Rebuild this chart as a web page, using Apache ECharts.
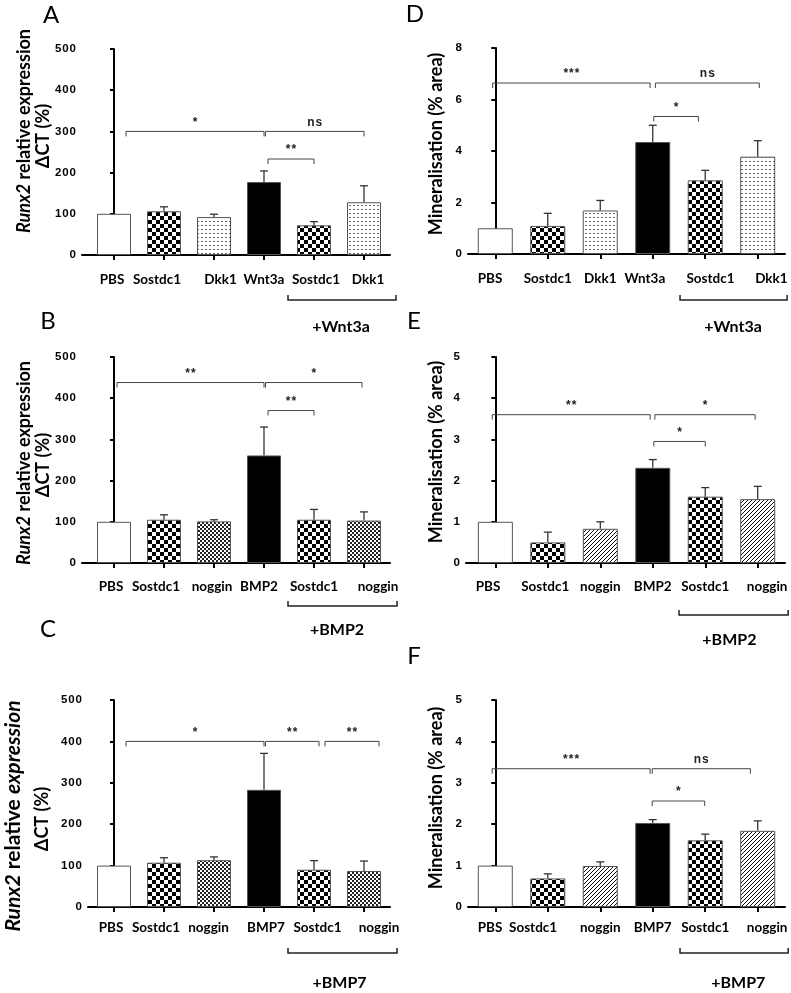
<!DOCTYPE html>
<html>
<head>
<meta charset="utf-8">
<script src="https://cdn.jsdelivr.net/npm/echarts@6/dist/echarts.min.js"></script>
<style>
  html, body { margin: 0; padding: 0; background: #fff; }
  #main { width: 791px; height: 993px; }
</style>
</head>
<body>
<div id="main"></div>
<script>
// categories
var catsWnt = ['PBS', 'Sostdc1', 'Dkk1', 'Wnt3a', 'Sostdc1', 'Dkk1'];
var catsBmp2 = ['PBS', 'Sostdc1', 'noggin', 'BMP2', 'Sostdc1', 'noggin'];
var catsBmp7 = ['PBS', 'Sostdc1', 'noggin', 'BMP7', 'Sostdc1', 'noggin'];

// Runx2 relative expression, dCT (%): mean and top of error bar
var runxWnt = [100, 106, 92, 177, 72, 128];
var runxWntErr = [null, 117, 99, 204, 81, 168];
var runxBmp2 = [100, 105, 101, 261, 105, 103];
var runxBmp2Err = [null, 117, 105, 330, 130, 124];
var runxBmp7 = [100, 107, 113, 283, 90, 87];
var runxBmp7Err = [null, 119, 121, 371, 112, 111];

// mineralisation (% area): mean and top of error bar
var minWnt = [1.0, 1.09, 1.69, 4.35, 2.86, 3.78];
var minWntErr = [null, 1.58, 2.08, 5.0, 3.25, 4.4];
var minBmp2 = [1.0, 0.50, 0.83, 2.31, 1.61, 1.55];
var minBmp2Err = [null, 0.75, 1.0, 2.51, 1.83, 1.86];
var minBmp7 = [1.0, 0.69, 0.99, 2.03, 1.61, 1.84];
var minBmp7Err = [null, 0.80, 1.09, 2.11, 1.76, 2.08];

// y tick labels
var runxTicks = [0, 100, 200, 300, 400, 500];
var minTicks8 = [0, 2, 4, 6, 8];
var minTicks5 = [0, 1, 2, 3, 4, 5];

// significance brackets: [from, to, height, label]
var sigA = [[0.24, 3, 300, '*'], [3.03, 5, 300, 'ns'], [3.08, 4, 233, '**']];
var sigB = [[0.06, 3, 438, '**'], [3.03, 4.96, 438, '*'], [3.08, 4, 370, '**']];
var sigC = [[0.24, 3, 400, '*'], [3.03, 4.1, 400, '**'], [4.22, 5.3, 400, '**']];
var sigD = [[-0.05, 2.95, 6.64, '***'], [3.05, 5.03, 6.64, 'ns'], [3.02, 3.87, 5.34, '*']];
var sigE = [[-0.06, 2.95, 3.6, '**'], [3.04, 4.95, 3.6, '*'], [3.02, 4.0, 2.95, '*']];
var sigF = [[-0.06, 2.95, 3.34, '***'], [2.99, 4.86, 3.34, 'ns'], [2.99, 3.99, 2.56, '*']];

var fillsWnt = ['open', 'check', 'dots', 'solid', 'check', 'dots'];
var fillsRunxBmp = ['open', 'check', 'fine', 'solid', 'check', 'fine'];
var fillsMinBmp = ['open', 'check', 'hatch', 'solid', 'check', 'hatch'];

function makeFill(kind) {
  if (kind === 'open') return '#fff';
  if (kind === 'solid') return '#000';
  var c = document.createElement('canvas');
  var ctx;
  if (kind === 'check') {
    c.width = 8; c.height = 8; ctx = c.getContext('2d');
    ctx.fillStyle = '#fff'; ctx.fillRect(0, 0, 8, 8);
    ctx.fillStyle = '#000'; ctx.fillRect(0, 0, 4, 4); ctx.fillRect(4, 4, 4, 4);
  } else if (kind === 'fine') {
    c.width = 4; c.height = 4; ctx = c.getContext('2d');
    ctx.fillStyle = '#fff'; ctx.fillRect(0, 0, 4, 4);
    ctx.fillStyle = '#222'; ctx.fillRect(0, 0, 2, 2); ctx.fillRect(2, 2, 2, 2);
  } else if (kind === 'dots') {
    c.width = 4; c.height = 4; ctx = c.getContext('2d');
    ctx.fillStyle = '#fff'; ctx.fillRect(0, 0, 4, 4);
    ctx.fillStyle = '#666'; ctx.fillRect(1, 1, 2, 1);
  } else {
    c.width = 4; c.height = 4; ctx = c.getContext('2d');
    ctx.fillStyle = '#fff'; ctx.fillRect(0, 0, 4, 4);
    ctx.fillStyle = '#111';
    for (var i = 0; i < 4; i++) ctx.fillRect(i, 3 - i, 1, 1);
  }
  return { image: c, repeat: 'repeat' };
}

var panels = [
  { letter: 'A', lx: 51, ly: 15, cats: catsWnt, mean: runxWnt, err: runxWntErr, ticks: runxTicks, sig: sigA, fills: fillsWnt,
    grid: { left: 82, top: 49, width: 308, height: 206 }, xmin: -0.64, spacing: 50,
    labelPos: [-0.04, 0.86, 2.13, 3.0, 4.04, 5.08], labelMargin: 18,
    group: '+Wnt3a', gFrom: 3.48, gTo: 5.64, gDy: 45, gLabelX: 4.54, gLabelDy: 72 },
  { letter: 'B', lx: 48, ly: 321, cats: catsBmp2, mean: runxBmp2, err: runxBmp2Err, ticks: runxTicks, sig: sigB, fills: fillsRunxBmp,
    grid: { left: 82, top: 357, width: 308, height: 206 }, xmin: -0.64, spacing: 50,
    labelPos: [-0.06, 0.84, 1.96, 2.9, 4, 5.28], labelMargin: 17,
    group: '+BMP2', gFrom: 3.48, gTo: 5.66, gDy: 43, gLabelX: 4.46, gLabelDy: 67 },
  { letter: 'C', lx: 48, ly: 629, cats: catsBmp7, mean: runxBmp7, err: runxBmp7Err, ticks: runxTicks, sig: sigC, fills: fillsRunxBmp,
    grid: { left: 88, top: 700, width: 302, height: 207 }, xmin: -0.52, spacing: 50,
    labelPos: [-0.06, 0.84, 1.89, 3.04, 4.07, 5.3], labelMargin: 14,
    group: '+BMP7', gFrom: 3.48, gTo: 5.66, gDy: 46, gLabelX: 4.51, gLabelDy: 76 },
  { letter: 'D', lx: 415, ly: 14, cats: catsWnt, mean: minWnt, err: minWntErr, ticks: minTicks8, sig: sigD, fills: fillsWnt,
    grid: { left: 468, top: 48, width: 317, height: 206 }, xmin: -0.52, spacing: 52.5,
    labelPos: [-0.1, 1, 2, 2.85, 4.1, 5.26], labelMargin: 18,
    group: '+Wnt3a', gFrom: 3.52, gTo: 5.56, gDy: 46, gLabelX: 4.53, gLabelDy: 73 },
  { letter: 'E', lx: 414, ly: 321, cats: catsBmp2, mean: minBmp2, err: minBmp2Err, ticks: minTicks5, sig: sigE, fills: fillsMinBmp,
    grid: { left: 466, top: 357, width: 319, height: 206 }, xmin: -0.56, spacing: 52.5,
    labelPos: [-0.14, 0.95, 2, 3, 4, 5.18], labelMargin: 17,
    group: '+BMP2', gFrom: 3.5, gTo: 5.58, gDy: 52, gLabelX: 4.46, gLabelDy: 77 },
  { letter: 'F', lx: 414, ly: 656, cats: catsBmp7, mean: minBmp7, err: minBmp7Err, ticks: minTicks5, sig: sigF, fills: fillsMinBmp,
    grid: { left: 468, top: 700, width: 317, height: 207 }, xmin: -0.52, spacing: 52.5,
    labelPos: [-0.1, 0.72, 2, 3, 4, 5.18], labelMargin: 14,
    group: '+BMP7', gFrom: 3.52, gTo: 5.58, gDy: 46, gLabelX: 4.63, gLabelDy: 76 }
];

function spaced(v) { return String(v).split('').join('\u200a'); }

var grids = [], xAxes = [], yAxes = [], series = [];
var graphics = [];

panels.forEach(function (p, k) {
  grids.push(p.grid);
  xAxes.push({
    type: 'value', gridIndex: k, min: p.xmin, max: 5.52,
    axisLine: { show: true, onZero: true, lineStyle: { color: '#000', width: 2 } },
    axisTick: { show: true, customValues: [0, 1, 2, 3, 4, 5], length: 5, lineStyle: { color: '#000', width: 2 } },
    axisLabel: {
      customValues: p.labelPos, margin: p.labelMargin,
      fontFamily: 'Lato', fontWeight: 'bold', fontSize: 13.5, color: '#000',
      formatter: (function (cats) { return function (v) { return cats[Math.round(v)]; }; })(p.cats)
    },
    splitLine: { show: false }
  });
  var tk = p.ticks;
  yAxes.push({
    type: 'value', gridIndex: k, min: tk[0], max: tk[tk.length - 1], interval: tk[1] - tk[0],
    axisLine: { show: true, lineStyle: { color: '#000', width: 2 } },
    axisTick: { show: true, length: 4, lineStyle: { color: '#000', width: 2 } },
    axisLabel: { margin: 6, fontFamily: 'Liberation Sans', fontWeight: 'bold', fontSize: 11.5, color: '#000', formatter: spaced },
    splitLine: { show: false }
  });

  series.push({
    type: 'bar', xAxisIndex: k, yAxisIndex: k, barWidth: p.spacing > 51 ? 35 : 34,
    silent: true,
    data: p.mean.map(function (v, i) {
      return { value: [i, v], itemStyle: { color: makeFill(p.fills[i]), borderColor: '#555', borderWidth: 1 } };
    })
  });

  var errData = [];
  p.err.forEach(function (e, i) { if (e != null) errData.push([i, p.mean[i], e]); });
  series.push({
    type: 'custom', xAxisIndex: k, yAxisIndex: k, silent: true, data: errData,
    renderItem: function (params, api) {
      var a = api.coord([api.value(0), api.value(1)]);
      var b = api.coord([api.value(0), api.value(2)]);
      var st = { stroke: '#333', lineWidth: 1.3 };
      return { type: 'group', children: [
        { type: 'line', shape: { x1: a[0], y1: a[1], x2: b[0], y2: b[1] }, style: st },
        { type: 'line', shape: { x1: b[0] - 4, y1: b[1], x2: b[0] + 4, y2: b[1] }, style: st }
      ] };
    }
  });

  series.push({
    type: 'custom', xAxisIndex: k, yAxisIndex: k, silent: true,
    data: p.sig.map(function (s) { return [s[0], s[2]]; }),
    renderItem: (function (list) {
      return function (params, api) {
        var s = list[params.dataIndex];
        var a = api.coord([s[0], s[2]]), b = api.coord([s[1], s[2]]);
        return { type: 'group', children: [
          { type: 'polyline', shape: { points: [[a[0], a[1] + 5], [a[0], a[1]], [b[0], b[1]], [b[0], b[1] + 5]] },
            style: { stroke: '#444', lineWidth: 1, fill: null } },
          { type: 'text', x: (a[0] + b[0]) / 2, y: a[1] - 3,
            style: { text: spaced(s[3]), font: 'bold 12px "Liberation Sans"', fill: '#222', align: 'center', verticalAlign: 'bottom' } }
        ] };
      };
    })(p.sig)
  });

  // treatment group bracket under the category labels
  series.push({
    type: 'custom', xAxisIndex: k, yAxisIndex: k, silent: true, clip: false,
    data: [[p.gFrom, 0]],
    renderItem: (function (p) {
      return function (params, api) {
        var a = api.coord([p.gFrom, 0]), b = api.coord([p.gTo, 0]), c = api.coord([p.gLabelX, 0]);
        var y = a[1] + p.gDy;
        return { type: 'group', children: [
          { type: 'polyline', shape: { points: [[a[0], y - 5], [a[0], y], [b[0], y], [b[0], y - 5]] },
            style: { stroke: '#222', lineWidth: 1.5, fill: null } },
          { type: 'text', x: c[0], y: a[1] + p.gLabelDy,
            style: { text: p.group, font: 'bold 16px Lato', fill: '#000', align: 'center', verticalAlign: 'middle' } }
        ] };
      };
    })(p)
  });

  graphics.push({ type: 'text', x: p.lx, y: p.ly,
    style: { text: p.letter, font: '24px Lato', fill: '#000', align: 'center', verticalAlign: 'middle' } });
});

// axis titles
var titleFont = { fontFamily: 'Lato', fontWeight: 'bold', fontSize: 18, fill: '#000' };
function vtitle(x, y, text, rich, size) {
  return { type: 'text', x: x, y: y, rotation: Math.PI / 2,
    style: { text: text, rich: rich, font: 'bold ' + (size || 18) + 'px Lato', fill: '#000', align: 'center', verticalAlign: 'middle' } };
}
var richR = {
  i: { fontFamily: 'Lato', fontWeight: 'bold', fontStyle: 'italic', fontSize: 18, fill: '#000' },
  b: titleFont
};
var richC = {
  i: { fontFamily: 'Lato', fontWeight: 'bold', fontStyle: 'italic', fontSize: 21, fill: '#000' },
  b: { fontFamily: 'Lato', fontWeight: 'bold', fontSize: 21, fill: '#000' }
};
graphics.push(vtitle(24, 131, '{i|Runx2}{b| relative expression}', richR));
graphics.push(vtitle(43, 136, 'ΔCT (%)'));
graphics.push(vtitle(24, 463, '{i|Runx2}{b| relative expression}', richR));
graphics.push(vtitle(43, 465, 'ΔCT (%)'));
graphics.push(vtitle(13, 816, '{i|Runx2}{b| relative }{i|expression}', richC));
graphics.push(vtitle(42, 819, 'ΔCT (%)'));
graphics.push(vtitle(436, 144, 'Mineralisation (% area)'));
graphics.push(vtitle(436, 452, 'Mineralisation (% area)'));
graphics.push(vtitle(436, 798, 'Mineralisation (% area)'));

var chart = echarts.init(document.getElementById('main'), null, { renderer: 'canvas' });
chart.setOption({
  animation: false,
  backgroundColor: '#fff',
  grid: grids,
  xAxis: xAxes,
  yAxis: yAxes,
  series: series,
  graphic: graphics
});
</script>
</body>
</html>
